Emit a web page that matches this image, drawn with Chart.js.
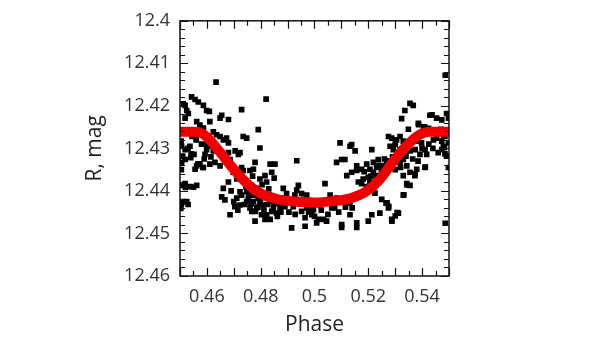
<!DOCTYPE html>
<html>
<head>
<meta charset="utf-8">
<script src="https://cdn.jsdelivr.net/npm/chart.js@4.4.0/dist/chart.umd.min.js"></script>
<style>
    html, body { margin: 0; padding: 0; background: #fff; }
    #wrap { width: 600px; height: 340px; }
</style>
</head>
<body>
<div id="wrap"><canvas id="light-curve" width="600" height="340"></canvas></div>
<script>
/*data*/
let phaseObs = [
    0.4512, 0.4519, 0.4525, 0.4543, 0.4556, 0.4568, 0.4587, 0.4599, 0.4609, 0.4531,
    0.4519, 0.4562, 0.4574, 0.4587, 0.4611, 0.4506, 0.4519, 0.4537, 0.4510, 0.4552,
    0.4599, 0.4618, 0.4624, 0.4593, 0.4519, 0.4506, 0.4562, 0.4574, 0.4587, 0.4556,
    0.4611, 0.4630, 0.4506, 0.4519, 0.4537, 0.4550, 0.4562, 0.4510, 0.4525, 0.4503,
    0.4504, 0.4530, 0.4541, 0.4567, 0.4585, 0.4505, 0.4530, 0.4634, 0.4649, 0.4655,
    0.4680, 0.4729, 0.4624, 0.4636, 0.4649, 0.4661, 0.4673, 0.4680, 0.4735, 0.4748,
    0.4791, 0.4820, 0.4705, 0.4717, 0.4723, 0.4661, 0.4680, 0.4686, 0.4797, 0.4649,
    0.4729, 0.4760, 0.4779, 0.4773, 0.4835, 0.4853, 0.4841, 0.4661, 0.4655, 0.4667,
    0.4680, 0.4686, 0.4704, 0.4711, 0.4723, 0.4729, 0.4748, 0.4754, 0.4760, 0.4773,
    0.4779, 0.4785, 0.4797, 0.4810, 0.4822, 0.4835, 0.4835, 0.4847, 0.4859, 0.4872,
    0.4735, 0.4742, 0.4760, 0.4785, 0.4797, 0.4816, 0.4822, 0.4723, 0.4748, 0.4773,
    0.4791, 0.4767, 0.4803, 0.4816, 0.4841, 0.4866, 0.4878, 0.4711, 0.4698, 0.4884,
    0.4896, 0.4903, 0.4890, 0.4915, 0.4921, 0.4915, 0.4934, 0.4940, 0.4927, 0.4952,
    0.4971, 0.4934, 0.4965, 0.4965, 0.4983, 0.4996, 0.4990, 0.5008, 0.5014, 0.5033,
    0.5045, 0.5039, 0.5064, 0.5070, 0.5101, 0.5101, 0.5132, 0.5157, 0.5157, 0.5095,
    0.5132, 0.5138, 0.5082, 0.5101, 0.5113, 0.5151, 0.5138, 0.5157, 0.5120, 0.5058,
    0.5082, 0.5107, 0.5132, 0.5020, 0.4971, 0.4952, 0.5213, 0.5237, 0.5219, 0.5194,
    0.5157, 0.5175, 0.5206, 0.5219, 0.5231, 0.5249, 0.5256, 0.5268, 0.5181, 0.5200,
    0.5163, 0.5175, 0.5206, 0.5225, 0.5194, 0.5231, 0.5243, 0.5266, 0.5275, 0.5243,
    0.5213, 0.5200, 0.5287, 0.5312, 0.5275, 0.5287, 0.5305, 0.5318, 0.5330, 0.5355,
    0.5343, 0.5380, 0.5398, 0.5281, 0.5293, 0.5318, 0.5330, 0.5355, 0.5374, 0.5392,
    0.5411, 0.5417, 0.5442, 0.5454, 0.5473, 0.5485, 0.5498, 0.5479, 0.5491, 0.5498,
    0.5473, 0.5305, 0.5318, 0.5330, 0.5343, 0.5355, 0.5374, 0.5330, 0.5343, 0.5355,
    0.5380, 0.5411, 0.5330, 0.5429, 0.5454, 0.5473, 0.5491, 0.5498, 0.5386, 0.5405,
    0.5349, 0.5355, 0.5367, 0.5336, 0.5324, 0.5486, 0.5486, 0.5437, 0.5387, 0.5410,
    0.5424, 0.5276, 0.5270, 0.5276, 0.5307, 0.5300, 0.5288, 0.5332, 0.5344, 0.5373,
    0.5412, 0.5480, 0.5483, 0.5485,
    0.4530, 0.4545, 0.4560, 0.4580, 0.4600, 0.4615, 0.4540, 0.4590, 0.4505, 0.4520,
    0.4690, 0.4700, 0.4715, 0.4740, 0.4757, 0.4765, 0.4780, 0.4790, 0.4800, 0.4812,
    0.4825, 0.4832, 0.4850, 0.4862, 0.4875, 0.4745, 0.4770, 0.4805, 0.4830, 0.4850,
    0.4945, 0.4960, 0.4978, 0.5000, 0.5025, 0.5050, 0.5075, 0.5090, 0.5115, 0.5140,
    0.4905, 0.4928, 0.5185, 0.5210, 0.5240, 0.5260, 0.5290, 0.5300, 0.5340, 0.5365,
    0.5385, 0.5400, 0.5425, 0.5440, 0.5460, 0.5495, 0.5470, 0.5365, 0.5320, 0.5300,
    0.5225, 0.5250
];
let magObs = [
    12.4195, 12.4199, 12.4211, 12.4179, 12.4185, 12.4191, 12.4199, 12.4211, 12.4213, 12.4218,
    12.4229, 12.4237, 12.4245, 12.4252, 12.4237, 12.4295, 12.4303, 12.4295, 12.4318, 12.4314,
    12.4303, 12.4295, 12.4306, 12.4314, 12.4326, 12.4333, 12.4341, 12.4337, 12.4345, 12.4349,
    12.4337, 12.4333, 12.4387, 12.4383, 12.4390, 12.4391, 12.4387, 12.4425, 12.4425, 12.4441,
    12.4283, 12.4300, 12.4313, 12.4336, 12.4345, 12.4432, 12.4432, 12.4144, 12.4229, 12.4222,
    12.4232, 12.4209, 12.4261, 12.4268, 12.4272, 12.4280, 12.4276, 12.4287, 12.4272, 12.4276,
    12.4256, 12.4184, 12.4306, 12.4314, 12.4310, 12.4318, 12.4310, 12.4326, 12.4299, 12.4341,
    12.4345, 12.4352, 12.4333, 12.4349, 12.4337, 12.4337, 12.4356, 12.4394, 12.4414, 12.4421,
    12.4379, 12.4456, 12.4437, 12.4417, 12.4433, 12.4410, 12.4425, 12.4417, 12.4440, 12.4425,
    12.4471, 12.4440, 12.4429, 12.4433, 12.4456, 12.4425, 12.4467, 12.4440, 12.4452, 12.4440,
    12.4352, 12.4375, 12.4387, 12.4394, 12.4372, 12.4364, 12.4379, 12.4402, 12.4402, 12.4410,
    12.4417, 12.4448, 12.4456, 12.4467, 12.4448, 12.4429, 12.4417, 12.4372, 12.4356, 12.4394,
    12.4406, 12.4421, 12.4437, 12.4425, 12.4437, 12.4487, 12.4398, 12.4387, 12.4410, 12.4406,
    12.4410, 12.4329, 12.4463, 12.4483, 12.4440, 12.4444, 12.4456, 12.4475, 12.4467, 12.4467,
    12.4471, 12.4383, 12.4440, 12.4425, 12.4479, 12.4486, 12.4456, 12.4475, 12.4486, 12.4287,
    12.4295, 12.4291, 12.4333, 12.4326, 12.4326, 12.4306, 12.4356, 12.4352, 12.4364, 12.4410,
    12.4417, 12.4425, 12.4429, 12.4433, 12.4440, 12.4448, 12.4303, 12.4326, 12.4333, 12.4337,
    12.4341, 12.4349, 12.4349, 12.4356, 12.4345, 12.4352, 12.4341, 12.4333, 12.4372, 12.4368,
    12.4379, 12.4383, 12.4379, 12.4383, 12.4390, 12.4364, 12.4368, 12.4429, 12.4440, 12.4452,
    12.4456, 12.4471, 12.4467, 12.4452, 12.4272, 12.4276, 12.4280, 12.4272, 12.4283, 12.4287,
    12.4295, 12.4283, 12.4287, 12.4295, 12.4303, 12.4303, 12.4310, 12.4306, 12.4303, 12.4314,
    12.4303, 12.4314, 12.4280, 12.4276, 12.4283, 12.4272, 12.4287, 12.4295, 12.4318, 12.4345,
    12.4303, 12.4322, 12.4333, 12.4326, 12.4341, 12.4356, 12.4360, 12.4364, 12.4383, 12.4387,
    12.4349, 12.4345, 12.4410, 12.4222, 12.4229, 12.4233, 12.4218, 12.4229, 12.4241, 12.4249,
    12.4255, 12.4194, 12.4199, 12.4211, 12.4230, 12.4128, 12.4476, 12.4221, 12.4244, 12.4250,
    12.4253, 12.4329, 12.4428, 12.4436, 12.4451, 12.4459, 12.4471, 12.4409, 12.4386, 12.4364,
    12.4344, 12.4271, 12.4298, 12.4313,
    12.4265, 12.4272, 12.4280, 12.4290, 12.4290, 12.4320, 12.4322, 12.4325, 12.4350, 12.4392,
    12.4400, 12.4425, 12.4445, 12.4432, 12.4410, 12.4430, 12.4448, 12.4438, 12.4418, 12.4445,
    12.4432, 12.4410, 12.4430, 12.4460, 12.4450, 12.4390, 12.4365, 12.4385, 12.4395, 12.4370,
    12.4430, 12.4420, 12.4450, 12.4460, 12.4445, 12.4455, 12.4440, 12.4450, 12.4438, 12.4440,
    12.4450, 12.4455, 12.4355, 12.4365, 12.4340, 12.4325, 12.4320, 12.4290, 12.4318, 12.4325,
    12.4330, 12.4300, 12.4290, 12.4300, 12.4310, 12.4260, 12.4255, 12.4280, 12.4345, 12.4350,
    12.4405, 12.4420
];
let fitPhase = [0.450, 0.455, 0.4575, 0.460, 0.465, 0.470, 0.475, 0.480, 0.486, 0.493,
    0.500, 0.507, 0.513, 0.519, 0.524, 0.529, 0.534, 0.539, 0.543, 0.550];
let fitMag = [12.4261, 12.4261, 12.4263, 12.4273, 12.4310, 12.4349, 12.4383, 12.4406, 12.4419, 12.4425,
    12.4427, 12.4424, 12.4418, 12.4402, 12.4375, 12.4333, 12.4295, 12.4268, 12.4261, 12.4261];
let phaseLabels = [0.46, 0.48, 0.5, 0.52, 0.54];
let magLabels = [12.4, 12.41, 12.42, 12.43, 12.44, 12.45, 12.46];
/**/

let obsPoints = phaseObs.map((p, i) => ({x: p, y: magObs[i]}));
let fitPoints = fitPhase.map((p, i) => ({x: p, y: fitMag[i]}));

// inward tick marks on all four sides plus the frame
let frameTicks = {
    id: 'frameTicks',
    afterDraw(chart) {
        let ctx = chart.ctx;
        let area = chart.chartArea;
        let xs = chart.scales.x;
        let ys = chart.scales.y;
        ctx.save();
        ctx.strokeStyle = '#111';
        ctx.lineWidth = 1.5;
        ctx.strokeRect(area.left, area.top, area.right - area.left, area.bottom - area.top);
        ctx.lineWidth = 1.2;
        ctx.beginPath();
        for (let i = 0; i <= 20; i++) {
            let px = Math.round(xs.getPixelForValue(0.45 + i * 0.005)) + 0.5;
            let len = i % 2 === 0 ? 8 : 5;
            ctx.moveTo(px, area.bottom); ctx.lineTo(px, area.bottom - len);
            ctx.moveTo(px, area.top); ctx.lineTo(px, area.top + len);
        }
        for (let i = 0; i <= 30; i++) {
            let py = Math.round(ys.getPixelForValue(12.4 + i * 0.002)) + 0.5;
            let len = i % 5 === 0 ? 8 : 5;
            ctx.moveTo(area.left, py); ctx.lineTo(area.left + len, py);
            ctx.moveTo(area.right, py); ctx.lineTo(area.right - len, py);
        }
        ctx.stroke();
        ctx.restore();
    }
};

let tickFont = {family: 'Open Sans', size: 18};
let titleFont = {family: 'Open Sans', size: 21};

new Chart(document.getElementById('light-curve'), {
    type: 'scatter',
    data: {
        datasets: [{
            label: 'Fit',
            type: 'line',
            data: fitPoints,
            borderColor: '#f00000',
            borderWidth: 10,
            pointRadius: 0,
            cubicInterpolationMode: 'monotone',
            fill: false,
            order: 0
        }, {
            label: 'R',
            data: obsPoints,
            pointStyle: 'rect',
            pointRadius: 4,
            backgroundColor: '#000',
            borderColor: '#000',
            borderWidth: 0,
            order: 1
        }]
    },
    options: {
        responsive: false,
        devicePixelRatio: 1,
        animation: false,
        layout: {
            padding: {top: 15, right: 151, bottom: 0, left: 0}
        },
        plugins: {
            legend: {display: false},
            tooltip: {enabled: false}
        },
        scales: {
            x: {
                type: 'linear',
                min: 0.45,
                max: 0.55,
                afterFit: s => { s.height = 64; },
                grid: {display: false, drawTicks: false},
                border: {display: false},
                ticks: {
                    stepSize: 0.01,
                    padding: 10,
                    maxRotation: 0,
                    autoSkip: false,
                    color: '#333',
                    font: tickFont,
                    callback: v => {
                        let hit = phaseLabels.find(l => Math.abs(l - v) < 1e-6);
                        return hit === undefined ? null : String(hit);
                    }
                },
                title: {
                    display: true,
                    text: 'Phase',
                    color: '#222',
                    font: titleFont,
                    padding: {top: 0, bottom: 2}
                }
            },
            y: {
                type: 'linear',
                reverse: true,
                min: 12.4,
                max: 12.46,
                afterFit: s => { s.width = 180; },
                grid: {display: false, drawTicks: false},
                border: {display: false},
                ticks: {
                    stepSize: 0.01,
                    padding: 10,
                    autoSkip: false,
                    color: '#333',
                    font: tickFont,
                    callback: v => {
                        let hit = magLabels.find(l => Math.abs(l - v) < 1e-6);
                        return hit === undefined ? null : String(hit);
                    }
                },
                title: {
                    display: true,
                    text: 'R, mag',
                    color: '#222',
                    font: titleFont,
                    padding: {top: 82, bottom: 0}
                }
            }
        }
    },
    plugins: [frameTicks]
});
</script>
</body>
</html>
